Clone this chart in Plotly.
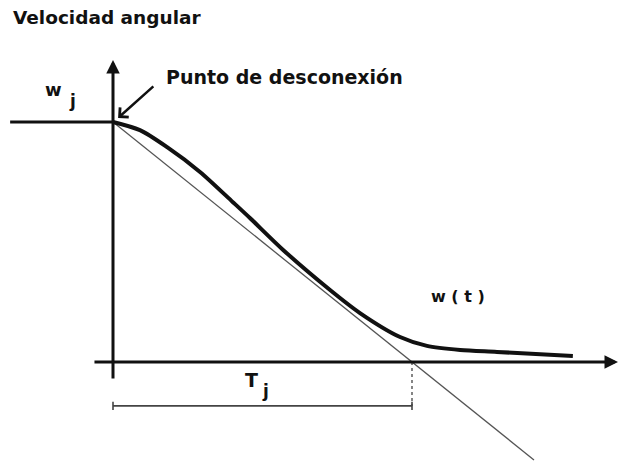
import plotly.graph_objects as go

# Normalised units: time in multiples of Tj, speed in multiples of wj
t_curve = [0.0, 0.090, 0.181, 0.291, 0.401, 0.458, 0.569, 0.726, 0.826, 0.960, 1.050, 1.161, 1.284, 1.538]
w_curve = [1.0, 0.966, 0.895, 0.792, 0.666, 0.600, 0.467, 0.300, 0.204, 0.104, 0.067, 0.050, 0.042, 0.025]

w_j = 1.0          # speed at the disconnection point
T_j = 1.0          # intercept of the initial tangent with the time axis
t_tangent_end = 1.408
t_pre_start = -0.344
x_axis_span = [-0.067, 1.689]
y_axis_span = [-0.075, 1.258]
bracket_level = -0.183
bracket_tick = 0.017

FONT = "DejaVu Sans"
INK = "#111111"
W, H = 621, 462

fig = go.Figure()

# constant speed before disconnection
fig.add_trace(go.Scatter(x=[t_pre_start, 0], y=[w_j, w_j], mode="lines",
                         line=dict(color=INK, width=3), hoverinfo="skip"))

# initial tangent (slope -wj/Tj)
fig.add_trace(go.Scatter(x=[0, t_tangent_end], y=[w_j, w_j - w_j * t_tangent_end / T_j],
                         mode="lines", line=dict(color="#555555", width=1.3), hoverinfo="skip"))

# angular speed w(t)
fig.add_trace(go.Scatter(x=t_curve, y=w_curve, mode="lines",
                         line=dict(color=INK, width=4, shape="spline", smoothing=0.8),
                         hoverinfo="skip"))

# dotted drop at Tj
fig.add_trace(go.Scatter(x=[T_j, T_j], y=[0, bracket_level], mode="lines",
                         line=dict(color="#444444", width=1.3, dash="dot"), hoverinfo="skip"))

# Tj dimension bracket
fig.add_trace(go.Scatter(x=[0, T_j], y=[bracket_level, bracket_level], mode="lines",
                         line=dict(color="#444444", width=1.6), hoverinfo="skip"))
for tx in (0, T_j):
    fig.add_trace(go.Scatter(x=[tx, tx], y=[bracket_level - bracket_tick, bracket_level + bracket_tick],
                             mode="lines", line=dict(color="#444444", width=1.6), hoverinfo="skip"))

anns = [
    # axes with arrowheads
    dict(x=x_axis_span[1], y=0, ax=x_axis_span[0], ay=0, xref="x", yref="y", axref="x", ayref="y",
         showarrow=True, arrowhead=2, arrowwidth=3, arrowsize=0.9, arrowcolor=INK, text=""),
    dict(x=0, y=y_axis_span[1], ax=0, ay=y_axis_span[0], xref="x", yref="y", axref="x", ayref="y",
         showarrow=True, arrowhead=2, arrowwidth=3, arrowsize=0.9, arrowcolor=INK, text=""),
    # pointer to the disconnection point
    dict(x=0.017, y=1.017, ax=0.140, ay=1.154, xref="x", yref="y", axref="x", ayref="y",
         showarrow=True, arrowhead=4, arrowwidth=2.5, arrowsize=1.0, arrowcolor=INK, text=""),
]

# text labels, positioned in pixels from the top-left corner
labels = [
    ("<b>Velocidad angular</b>", 11, 17, 18.5, "left"),
    ("<b>Punto de desconexión</b>", 164, 77, 19, "left"),
    ("<b>w</b>", 53, 90, 18, "center"),
    ("<b>j</b>", 72, 101, 17, "center"),
    ("<b>w ( t )</b>", 458, 296, 16, "center"),
    ("<b>T</b>", 251, 380, 19, "center"),
    ("<b>j</b>", 265, 391, 17, "center"),
]
for text, px, py, size, anchor in labels:
    anns.append(dict(x=px / W, y=1 - py / H, xref="paper", yref="paper", text=text,
                     showarrow=False, xanchor=anchor, yanchor="middle",
                     font=dict(family=FONT, size=size, color=INK)))

fig.update_layout(
    width=W, height=H,
    margin=dict(l=0, r=0, t=0, b=0),
    paper_bgcolor="white", plot_bgcolor="white",
    showlegend=False,
    annotations=anns,
    xaxis=dict(range=[-113 / 299, 508 / 299], visible=False, fixedrange=True),
    yaxis=dict(range=[-100 / 240, 362 / 240], visible=False, fixedrange=True),
)

fig.write_html("out.html")
